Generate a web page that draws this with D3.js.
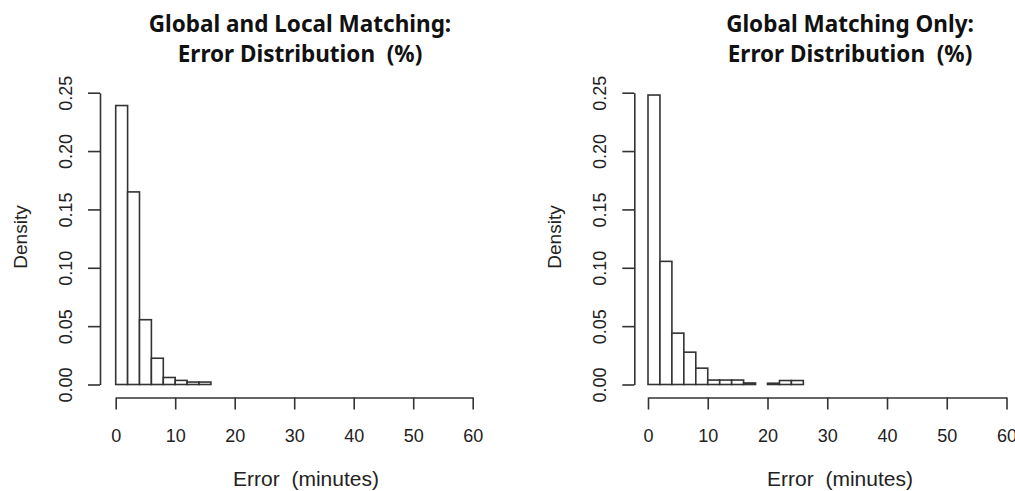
<!DOCTYPE html>
<html>
<head>
<meta charset="utf-8">
<script src="https://cdn.jsdelivr.net/npm/d3@7"></script>
<style>
  body { margin: 0; background: #fff; }
  svg { display: block; }
  text { white-space: pre; }
</style>
</head>
<body>
<div id="chart"></div>
<script>
// histogram breaks (minutes), bin width 2
var breaks = [0,2,4,6,8,10,12,14,16,18,20,22,24,26,28,30,32,34,36,38,40,42,44,46,48,50,52,54,56,58,60,62];

// densities per bin
var localDensity = [0.239, 0.165, 0.0555, 0.0225, 0.006, 0.0035, 0.0021, 0.0021,
    0,0,0,0,0,0,0,0,0,0,0,0,0,0,0,0,0,0,0,0,0,0,0];
var globalDensity = [0.248, 0.1055, 0.044, 0.0277, 0.014, 0.0038, 0.0038, 0.0038, 0.0013,
    0, 0.0011, 0.0034, 0.0034,
    0,0,0,0,0,0,0,0,0,0,0,0,0,0,0,0,0,0];

var xTicks = [0,10,20,30,40,50,60];
var yTicks = [0,0.05,0.10,0.15,0.20,0.25];

var panels = [
  {title: ["Global and Local Matching:", "Error Distribution  (%)"], values: localDensity,
   yAxisX: 100, x0: 115.7, x60: 472.7, titleX: 300, labelX: 306},
  {title: ["Global Matching Only:", "Error Distribution  (%)"], values: globalDensity,
   yAxisX: 634.3, x0: 648, x60: 1006.5, titleX: 850, labelX: 840}
];

var W = 1015, H = 491;
var ink = "#333";

var svg = d3.select("#chart")
    .append("svg")
    .attr("width", W)
    .attr("height", H);

panels.forEach(function(p) {
    var g = svg.append("g");

    var x = d3.scaleLinear()
        .domain([0, 60])
        .range([p.x0, p.x60]);

    var y = d3.scaleLinear()
        .domain([0, 0.25])
        .range([384.5, 92.7]);

    var bins = p.values.map(function(v, i) {
        return {x0: breaks[i], x1: breaks[i + 1], d: v};
    });

    // bars
    g.selectAll("rect.bar")
        .data(bins)
        .enter()
        .append("rect")
        .attr("class", "bar")
        .attr("x", function(d) { return x(d.x0); })
        .attr("y", function(d) { return y(d.d); })
        .attr("width", function(d) { return x(d.x1) - x(d.x0); })
        .attr("height", function(d) { return y(0) - y(d.d); })
        .attr("fill", "white")
        .attr("stroke", ink)
        .attr("stroke-width", 1.6);

    // x axis
    var xAxis = g.append("g")
        .attr("transform", "translate(0,397.5)")
        .call(d3.axisBottom(x).tickValues(xTicks).tickSize(12).tickSizeOuter(0));
    xAxis.select(".domain").attr("stroke", ink).attr("stroke-width", 1.6);
    xAxis.selectAll(".tick line").attr("stroke", ink).attr("stroke-width", 1.6);
    xAxis.selectAll(".tick text")
        .attr("fill", "#222")
        .style("font-family", "'Liberation Sans', Arial, sans-serif")
        .style("font-size", "18px")
        .attr("dy", 0)
        .attr("y", 44.5);

    // y axis
    var yAxis = g.append("g")
        .attr("transform", "translate(" + p.yAxisX + ",0)")
        .call(d3.axisLeft(y).tickValues(yTicks).tickSize(12).tickSizeOuter(0)
            .tickFormat(d3.format(".2f")));
    yAxis.select(".domain").attr("stroke", ink).attr("stroke-width", 1.6);
    yAxis.selectAll(".tick line").attr("stroke", ink).attr("stroke-width", 1.6);
    yAxis.selectAll(".tick text")
        .attr("fill", "#222")
        .style("font-family", "'Liberation Sans', Arial, sans-serif")
        .style("font-size", "18px")
        .attr("text-anchor", "middle")
        .attr("transform", "rotate(-90)")
        .attr("x", 0)
        .attr("dy", 0)
        .attr("y", -28);

    // axis titles
    g.append("text")
        .attr("x", p.labelX)
        .attr("y", 486)
        .attr("text-anchor", "middle")
        .attr("fill", "#222")
        .style("font-family", "'Liberation Sans', Arial, sans-serif")
        .style("font-size", "21px")
        .text("Error  (minutes)");

    g.append("text")
        .attr("transform", "translate(" + (p.yAxisX - 73) + ",237) rotate(-90)")
        .attr("text-anchor", "middle")
        .attr("fill", "#222")
        .style("font-family", "'Liberation Sans', Arial, sans-serif")
        .style("font-size", "19px")
        .text("Density");

    // main title
    p.title.forEach(function(t, i) {
        g.append("text")
            .attr("x", p.titleX)
            .attr("y", 32 + i * 30)
            .attr("text-anchor", "middle")
            .attr("fill", "#111")
            .style("font-family", "'Noto Sans', 'Open Sans', sans-serif")
            .style("font-weight", "bold")
            .style("font-size", "22.5px")
            .text(t);
    });
});
</script>
</body>
</html>
